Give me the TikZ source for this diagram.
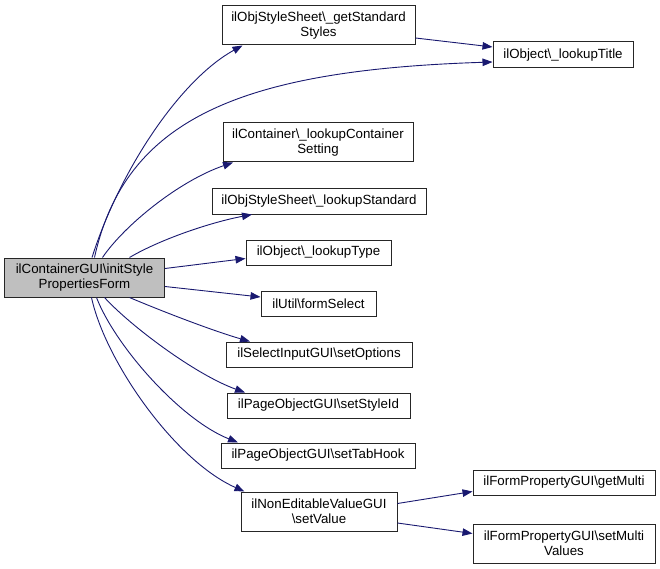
\documentclass[tikz,border=0pt]{standalone}
\usepackage{fontspec}
\setmainfont{Liberation Sans}
\usetikzlibrary{arrows.meta}
\definecolor{edgeblue}{HTML}{191970}
\definecolor{boxgray}{HTML}{BFBFBF}
\begin{document}
\begin{tikzpicture}[x=1pt,y=-1pt,
  fn/.style={draw=black!85, line width=1pt, fill=white, inner sep=0pt, align=center,
    font=\fontsize{13.3}{15}\selectfont, minimum height=25pt},
  fn2/.style={fn, minimum height=39pt},
  call/.style={draw=edgeblue, line width=0.9pt, -{Triangle[length=10pt,width=7.5pt]}, edgeblue}]
\useasboundingbox (0,0) rectangle (660,569);
\node[fn2, fill=boxgray, minimum width=160pt] (main) at (84.5,277.5) {ilContainerGUI\textbackslash initStyle\\PropertiesForm};
\node[fn2, minimum width=193pt] (getstd) at (318.5,25.5) {ilObjStyleSheet\textbackslash \_getStandard\\Styles};
\node[fn, minimum width=140pt, minimum height=26pt] (title) at (563,55) {ilObject\textbackslash \_lookupTitle};
\node[fn2, minimum width=190pt] (cont) at (318,142.5) {ilContainer\textbackslash \_lookupContainer\\Setting};
\node[fn, minimum width=214pt] (lstd) at (319,201.5) {ilObjStyleSheet\textbackslash \_lookupStandard};
\node[fn, minimum width=145pt] (ltype) at (318.5,252.5) {ilObject\textbackslash \_lookupType};
\node[fn, minimum width=115pt] (fsel) at (318.5,303.5) {ilUtil\textbackslash formSelect};
\node[fn, minimum width=186pt] (sopt) at (319,354.5) {ilSelectInputGUI\textbackslash setOptions};
\node[fn, minimum width=183pt] (ssid) at (318.5,405.5) {ilPageObjectGUI\textbackslash setStyleId};
\node[fn, minimum width=194pt] (stab) at (318,455.5) {ilPageObjectGUI\textbackslash setTabHook};
\node[fn2, minimum width=156pt] (sval) at (319,511.5) {ilNonEditableValueGUI\\\textbackslash setValue};
\node[fn, minimum width=182pt] (gmul) at (564,482.5) {ilFormPropertyGUI\textbackslash getMulti};
\node[fn2, minimum width=182pt] (smul) at (564,543.5) {ilFormPropertyGUI\textbackslash setMulti\\Values};

\draw[call] ([xshift=7.5]main.north) .. controls +(28,-88) and +(-62,34) .. ([xshift=-76]getstd.south);
\draw[call] ([xshift=10]main.north) .. controls +(30.5,-138) and +(-253,8) .. ([yshift=-7]title.west);
\draw[call] ([yshift=-12.5]getstd.east) -- ([yshift=8]title.west);
\draw[call] ([xshift=18]main.north) .. controls +(22.5,-33) and +(-53,18) .. ([xshift=-85]cont.south);
\draw[call] ([xshift=45]main.north) .. controls +(30.5,-18) and +(-42,8) .. ([xshift=-67]lstd.south);
\draw[call] ([yshift=9]main.east) -- ([yshift=-6]ltype.west);
\draw[call] ([yshift=-9]main.east) -- ([yshift=6.5]fsel.west);
\draw[call] ([xshift=45]main.south) .. controls +(35.5,15) and +(-35,-10) .. ([xshift=-69]sopt.north);
\draw[call] ([xshift=20]main.south) .. controls +(25.5,28) and +(-50,-18) .. ([xshift=-73.5]ssid.north);
\draw[call] ([xshift=12]main.south) .. controls +(18.5,48) and +(-58,-23) .. ([xshift=-80]stab.north);
\draw[call] ([xshift=7]main.south) .. controls +(13.5,63) and +(-70,-31) .. ([xshift=4]sval.north west);
\draw[call] ([yshift=8]sval.east) -- ([yshift=-9]gmul.west);
\draw[call] ([yshift=-11.5]sval.east) -- ([yshift=10]smul.west);
\end{tikzpicture}
\end{document}
